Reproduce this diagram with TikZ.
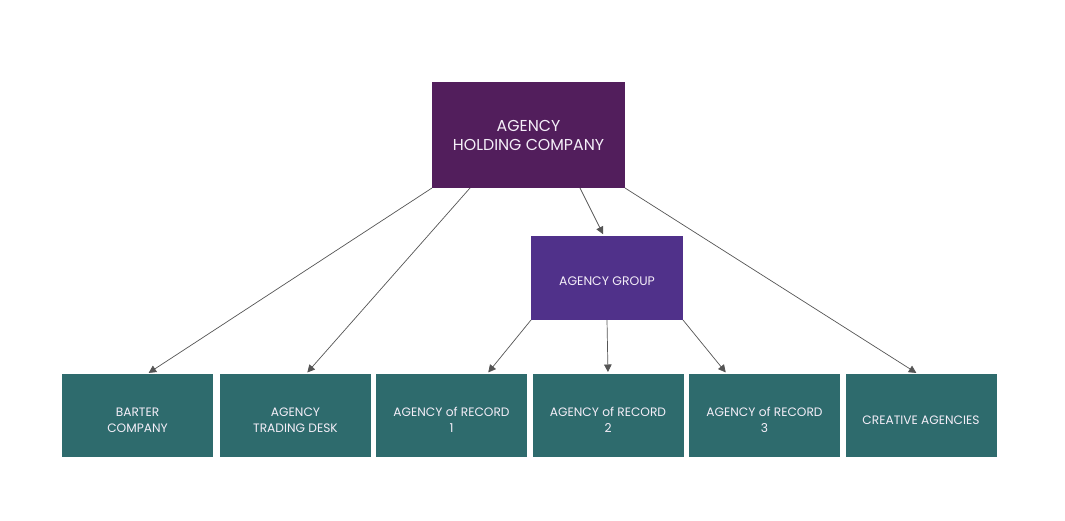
\documentclass[tikz,border=0pt]{standalone}
\usepackage{fontspec}
\setmainfont{Poppins}
\usetikzlibrary{arrows.meta}
\definecolor{holdc}{HTML}{521E5C}
\definecolor{groupc}{HTML}{50318A}
\definecolor{tealc}{HTML}{2E6B6D}
\definecolor{linec}{HTML}{555555}
\definecolor{txtc}{HTML}{F4EEF8}
\tikzset{
  boxa/.style={fill=#1, draw=none, text=txtc, align=center, inner sep=0pt, outer sep=0pt},
  leaftxt/.style={text=txtc, align=center, inner sep=0pt, yshift=-4.5pt, font=\fontsize{12.2}{16}\selectfont},
  leaf/.style={boxa=tealc, minimum width=151pt, minimum height=83pt, label={[leaftxt]center:{#1}}},
  conn/.style={draw=linec, line width=0.7pt, -{Triangle[length=7.5pt,width=7.5pt]}, shorten >=2pt}
}
\begin{document}
\begin{tikzpicture}[x=1pt,y=-1pt]
\useasboundingbox[fill=white] (0,0) rectangle (1065,520);
\node[boxa=holdc, minimum width=193pt, minimum height=106pt, font=\fontsize{15.8}{19}\selectfont] (hold) at (528.5,135) {AGENCY\\HOLDING COMPANY};
\node[boxa=groupc, minimum width=152pt, minimum height=84pt, label={[text=txtc, inner sep=0pt, yshift=-3pt, font=\fontsize{12.4}{15}\selectfont]center:AGENCY GROUP}] (grp) at (607,278) {};
\node[leaf={BARTER\\COMPANY}] (barter) at (137.5,415.5) {};
\node[leaf={AGENCY\\TRADING DESK}] (desk) at (295.5,415.5) {};
\node[leaf={AGENCY of RECORD\\1}] (aor1) at (451.5,415.5) {};
\node[leaf={AGENCY of RECORD\\2}] (aor2) at (608,415.5) {};
\node[leaf={AGENCY of RECORD\\3}] (aor3) at (764.5,415.5) {};
\node[leaf={CREATIVE AGENCIES}] (crea) at (921,415.5) {};
\draw[conn] (hold.south west) -- ([xshift=9.5pt]barter.north);
\draw[conn] ([xshift=38pt]hold.south west) -- ([xshift=10.5pt]desk.north);
\draw[conn] ([xshift=-45pt]hold.south east) -- ([xshift=-3pt]grp.north);
\draw[conn] (hold.south east) -- ([xshift=-3pt]crea.north);
\draw[conn] (grp.south west) -- ([xshift=35.5pt]aor1.north);
\draw[conn] (grp.south) -- (aor2.north);
\draw[conn] (grp.south east) -- ([xshift=-37.5pt]aor3.north);
\end{tikzpicture}
\end{document}
